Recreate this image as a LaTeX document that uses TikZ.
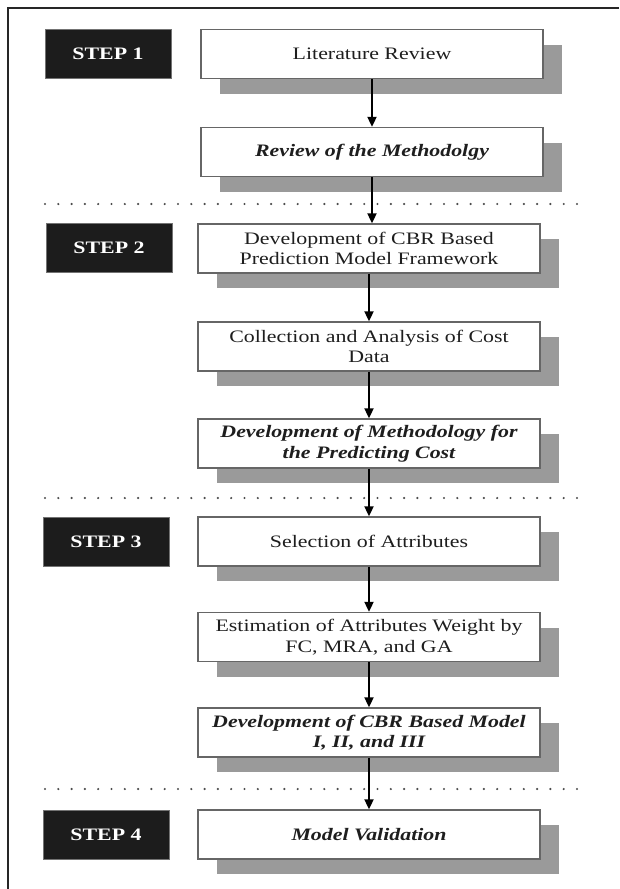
\documentclass[tikz,border=0pt]{standalone}
\usepackage{fontspec}
\setmainfont{Liberation Serif}[FakeStretch=1.25]
\usetikzlibrary{arrows.meta,shadows}

\definecolor{shade}{HTML}{9A9A9A}
\definecolor{boxline}{HTML}{666666}
\definecolor{stepfill}{HTML}{1C1C1C}
\definecolor{inktext}{HTML}{1E1E1E}

\tikzset{
  taskbox/.style={draw=boxline, line width=1.3pt, fill=white, text=inktext,
    minimum width=342pt, minimum height=49pt, inner sep=2pt, align=center,
    font=\fontsize{17.5}{20.5}\selectfont,
    general shadow={fill=shade, shadow xshift=19pt, shadow yshift=-15pt}},
  keybox/.style={taskbox, font=\fontsize{17.5}{20.5}\selectfont\bfseries\itshape},
  stepbox/.style={draw=black!55, line width=1pt, fill=stepfill, text=white,
    minimum width=126pt, minimum height=49pt, inner sep=2pt,
    font=\fontsize{17.5}{20}\selectfont\bfseries},
  flow/.style={line width=1.8pt, -{Triangle[length=10pt,width=9pt]}},
  divider/.style={draw=black!70, line width=2.4pt, line cap=round,
    dash pattern=on 0pt off 13.3pt},
  frame/.style={draw=black!85, line width=2pt}
}

\begin{document}
\begin{tikzpicture}[x=1pt,y=-1pt]
\useasboundingbox (0,0) rectangle (619,889);

% outer frame (top and left edges)
\path[frame] (619,8) -- (8,8) -- (8,889);

% step labels
\node[stepbox] (s1) at (108,54)    {STEP 1};
\node[stepbox] (s2) at (109,248)   {STEP 2};
\node[stepbox] (s3) at (106,542)   {STEP 3};
\node[stepbox] (s4) at (106,834.5) {STEP 4};

% process boxes
\node[taskbox] (b1) at (372,54)    {Literature Review};
\node[keybox]  (b2) at (372,152)   {Review of the Methodolgy};
\node[taskbox] (b3) at (369,248.5) {Development of CBR Based\\Prediction Model Framework};
\node[taskbox] (b4) at (369,346.5) {Collection and Analysis of Cost\\Data};
\node[keybox]  (b5) at (369,443.5) {Development of Methodology for\\the Predicting Cost};
\node[taskbox] (b6) at (369,541.5) {Selection of Attributes};
\node[taskbox] (b7) at (369,637)   {Estimation of Attributes Weight by\\FC, MRA, and GA};
\node[keybox]  (b8) at (369,732.5) {Development of CBR Based Model\\I, II, and III};
\node[keybox]  (b9) at (369,834.5) {Model Validation};

% dotted separators between steps
\coordinate (d1a) at (45,204);  \coordinate (d1b) at (586,204);
\coordinate (d2a) at (45,498);  \coordinate (d2b) at (586,498);
\coordinate (d3a) at (45,789);  \coordinate (d3b) at (586,789);
\path[divider] (d1a) -- (d1b);
\path[divider] (d2a) -- (d2b);
\path[divider] (d3a) -- (d3b);

% flow arrows
\draw[flow] (b1.south) -- (b2.north);
\draw[flow] (b2.south) -- (b2.south |- b3.north);
\draw[flow] (b3.south) -- (b4.north);
\draw[flow] (b4.south) -- (b5.north);
\draw[flow] (b5.south) -- (b6.north);
\draw[flow] (b6.south) -- (b7.north);
\draw[flow] (b7.south) -- (b8.north);
\draw[flow] (b8.south) -- (b9.north);
\end{tikzpicture}
\end{document}
